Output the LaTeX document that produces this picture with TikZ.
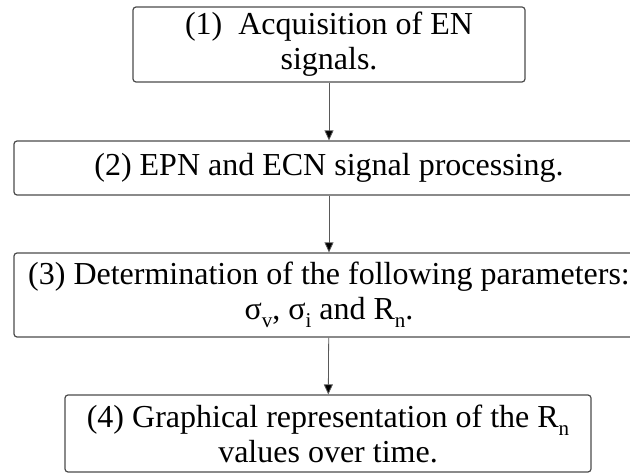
\documentclass[tikz,border=0pt]{standalone}
\usepackage{fontspec}
\setmainfont{Liberation Serif}
\usetikzlibrary{arrows.meta}
\newcommand{\lowsub}[1]{\raisebox{-0.25em}{\fontsize{21}{21}\selectfont #1}}

\begin{document}
\begin{tikzpicture}[x=1pt,y=-1pt,
    stepbox/.style={draw=black!70, line width=1.2pt, rounded corners=3pt,
      align=center, inner sep=0pt, font=\fontsize{32}{35}\selectfont},
    flow/.style={draw=black!65, line width=0.8pt,
      -{Triangle[length=10pt,width=9pt,fill=black]}}]
    \useasboundingbox (0,0) rectangle (630,473);
    % steps
    \node[stepbox, minimum width=392, minimum height=75] (s1) at (329,44.5)
      {(1)\ \ Acquisition of EN\\signals.};
    \node[stepbox, minimum width=630, minimum height=54] (s2) at (329,168)
      {(2) EPN and ECN signal processing.};
    \node[stepbox, minimum width=630, minimum height=84] (s3) at (329,295)
      {(3) Determination of the following parameters:\\
       σ\lowsub{v}, σ\lowsub{i} and R\lowsub{n}.};
    \node[stepbox, minimum width=526, minimum height=77] (s4) at (328,433.5)
      {(4) Graphical representation of the R\lowsub{n}\\values over time.};
    % arrows
    \draw[flow] (s1) -- (s2);
    \draw[flow] (s2) -- (s3);
    \draw[flow] (s3) -- (s4);
\end{tikzpicture}
\end{document}
